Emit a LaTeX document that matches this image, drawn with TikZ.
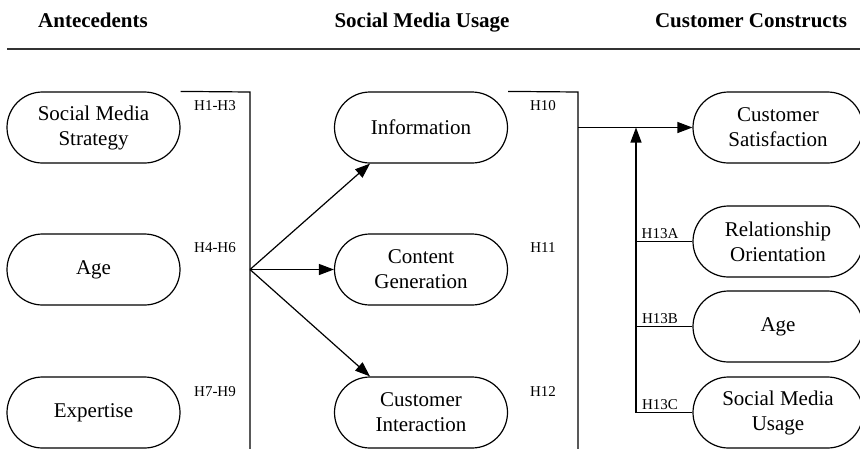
\documentclass[tikz,border=0pt]{standalone}
\usepackage{fontspec}
\setmainfont{Liberation Serif}
\usetikzlibrary{arrows.meta,shapes.misc}

\begin{document}
\begin{tikzpicture}[x=1pt, y=-1pt,
		construct/.style={draw, line width=1.2pt, rounded rectangle, minimum width=173pt, minimum height=71pt, inner sep=0pt, align=center, font=\fontsize{21}{25}\selectfont},
		hyp/.style={font=\fontsize{15}{18}\selectfont},
		head/.style={anchor=base, font=\bfseries\fontsize{21}{25}\selectfont},
		link/.style={line width=1.2pt},
		arr/.style={line width=1.2pt, -{Triangle[length=15pt, width=11pt]}}]
		%%%%% START %%%%%
		\useasboundingbox (0, 0) rectangle (860, 448);
		
		\node[head] (hAnte) at (93, 27) {Antecedents};
		\node[head] (hUse) at (422, 27) {Social Media Usage};
		\node[head] (hCust) at (751, 27) {Customer Constructs};
		\draw[line width=2pt, color=black!80] (7, 49) -- (860, 49);
		
		\node[construct] (strategy) at (93.5, 127.5) {Social Media\\Strategy};
		\node[construct] (age) at (93.5, 269.5) {Age};
		\node[construct] (expertise) at (93.5, 412.5) {Expertise};
		
		\node[construct] (info) at (421, 127.5) {Information};
		\node[construct] (content) at (421, 269.5) {Content\\Generation};
		\node[construct] (interact) at (421, 412.5) {Customer\\Interaction};
		
		\node[construct, minimum width=170pt] (satisf) at (778, 127.5) {Customer\\Satisfaction};
		\node[construct, minimum width=170pt] (relat) at (778, 241.5) {Relationship\\Orientation};
		\node[construct, minimum width=170pt] (age2) at (778, 326.5) {Age};
		\node[construct, minimum width=170pt] (usage) at (778, 412.5) {Social Media\\Usage};
		
		\node[hyp] (h1) at (215, 106) {H1-H3};
		\node[hyp] (h4) at (215, 248) {H4-H6};
		\node[hyp] (h7) at (215, 392) {H7-H9};
		\node[hyp] (h10) at (543, 106) {H10};
		\node[hyp] (h11) at (543, 248) {H11};
		\node[hyp] (h12) at (543, 392) {H12};
		\node[hyp] (h13a) at (660, 234) {H13A};
		\node[hyp] (h13b) at (660, 319) {H13B};
		\node[hyp] (h13c) at (660, 405) {H13C};
		
		% antecedents bracket
		\coordinate (b1top) at (250, 92);
		\coordinate (b1bot) at (250, 452);
		\coordinate (hub1) at (b1top |- content.west);
		\draw[link] (strategy.north -| strategy.east) -- (b1top) -- (b1bot);
		\draw[arr] (hub1) -- (info.south west);
		\draw[arr] (hub1) -- (content.west);
		\draw[arr] (hub1) -- (interact.north west);
		
		% usage bracket
		\coordinate (b2top) at (578, 92);
		\coordinate (b2bot) at (578, 452);
		\draw[link] (info.north -| info.east) -- (b2top) -- (b2bot);
		\draw[arr] (b2top |- satisf.west) -- (satisf.west);
		
		% moderators
		\coordinate (mod) at (636, 0);
		\draw[arr] (mod |- usage.west) -- (mod |- satisf.west);
		\draw[link] (relat.west) -- (mod |- relat.west);
		\draw[link] (age2.west) -- (mod |- age2.west);
		\draw[link] (usage.west) -- (mod |- usage.west);
		
		%%%%% END %%%%%
\end{tikzpicture}
\end{document}
